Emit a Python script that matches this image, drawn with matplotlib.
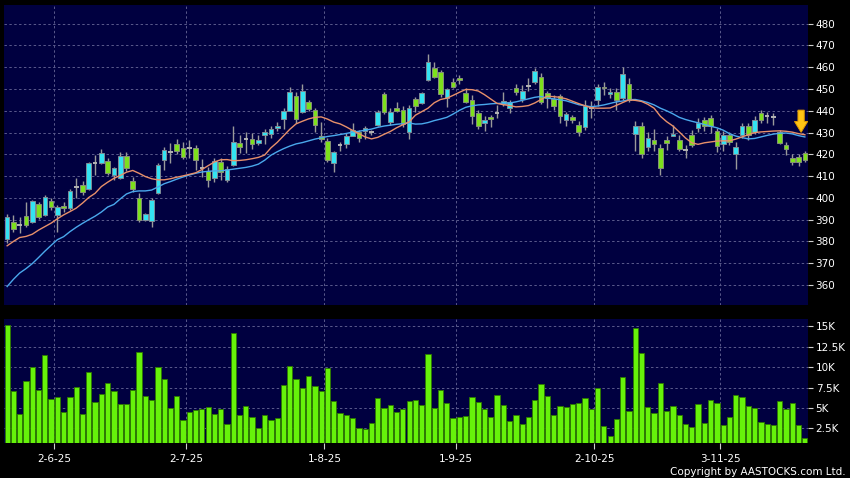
import numpy as np
import matplotlib
matplotlib.use("Agg")
import matplotlib.pyplot as plt
from matplotlib.patches import FancyArrow

# ---------------- data ----------------
opens = [381.0, 388.8, 387.6, 391.9, 388.8, 397.1, 392.2, 398.6, 392.2, 396.2,
         395.3, 405.2, 406.0, 404.1, 415.9, 415.9, 417.1, 410.3, 409.3, 419.4,
         407.8, 399.9, 390.0, 389.4, 402.1, 417.5, 420.9, 424.8, 422.8, 423.1,
         423.1, 413.9, 412.4, 409.0, 416.4, 408.3, 415.2, 425.1, 427.0, 427.2,
         425.4, 429.0, 429.5, 432.2, 436.1, 440.0, 447.0, 439.6, 443.9, 440.4,
         428.5, 426.3, 415.9, 424.3, 424.6, 428.6, 430.2, 430.8, 430.2, 433.5,
         447.8, 435.0, 441.2, 440.4, 430.2, 445.3, 443.5, 454.2, 459.8, 458.0,
         446.1, 453.1, 455.0, 448.1, 445.0, 439.2, 434.3, 437.2, 439.2, 443.0,
         441.5, 450.4, 445.3, 451.6, 453.1, 455.4, 448.1, 445.5, 447.0, 435.7,
         437.0, 433.5, 432.6, 441.2, 445.0, 451.1, 447.6, 448.8, 445.8, 452.2,
         429.2, 432.8, 423.4, 426.8, 422.8, 426.8, 428.3, 426.8, 422.0, 428.9,
         432.0, 435.8, 436.9, 430.8, 424.6, 428.9, 420.1, 428.9, 433.2, 430.2,
         438.9, 437.8, 437.3, 430.2, 424.3, 418.2, 418.7, 420.8]
closes = [391.4, 385.8, 387.6, 387.6, 398.6, 391.0, 400.2, 395.6, 395.6, 395.3,
          403.2, 405.2, 402.6, 415.9, 415.9, 420.5, 411.3, 413.6, 419.4, 413.6,
          404.1, 390.0, 392.4, 399.1, 415.2, 422.0, 420.9, 421.6, 418.7, 423.1,
          417.3, 413.9, 408.3, 417.0, 412.1, 413.3, 425.6, 423.6, 427.0, 424.6,
          426.8, 430.2, 431.7, 433.1, 440.0, 448.5, 436.3, 449.3, 440.9, 433.5,
          427.2, 417.5, 421.0, 424.3, 428.5, 431.2, 427.7, 432.0, 430.2, 439.6,
          439.6, 439.3, 440.1, 433.8, 441.2, 442.4, 448.1, 462.6, 455.4, 447.6,
          449.9, 451.1, 454.0, 444.2, 437.7, 432.8, 435.8, 436.1, 439.2, 444.7,
          443.9, 448.5, 449.3, 451.6, 458.3, 443.9, 446.1, 442.4, 437.5, 438.4,
          435.7, 430.2, 442.4, 441.2, 451.1, 450.4, 448.5, 445.0, 456.8, 445.0,
          432.8, 420.1, 427.7, 424.6, 413.9, 425.0, 429.2, 422.4, 422.0, 424.3,
          434.3, 432.8, 432.8, 424.0, 428.9, 425.9, 423.6, 432.8, 428.9, 435.8,
          435.8, 437.8, 437.3, 425.1, 422.4, 416.7, 416.4, 417.3]
highs = [392.4, 392.2, 391.4, 398.3, 399.0, 398.3, 401.1, 399.9, 396.8, 398.3,
         404.1, 409.3, 407.8, 416.7, 419.7, 422.5, 418.2, 414.4, 421.0, 421.0,
         409.8, 402.1, 393.0, 399.9, 416.0, 423.6, 425.0, 427.0, 425.6, 426.6,
         424.3, 417.9, 414.4, 418.2, 418.2, 414.8, 432.8, 428.9, 430.2, 429.7,
         429.0, 431.7, 432.8, 434.8, 441.2, 451.1, 448.8, 452.2, 444.9, 441.2,
         435.0, 427.4, 421.6, 425.9, 429.7, 434.3, 431.2, 432.8, 431.2, 440.4,
         448.5, 441.2, 443.9, 442.4, 442.7, 446.5, 448.8, 466.0, 462.6, 458.8,
         450.7, 454.9, 456.6, 450.7, 447.3, 440.4, 437.8, 438.1, 442.7, 448.8,
         445.0, 452.2, 451.9, 455.0, 459.6, 457.3, 449.1, 447.3, 447.6, 439.6,
         438.1, 435.4, 445.0, 444.6, 452.2, 453.4, 450.4, 450.4, 460.3, 454.9,
         435.4, 435.0, 430.2, 431.7, 424.6, 428.2, 433.5, 429.0, 424.3, 431.2,
         436.6, 437.3, 438.1, 432.0, 430.5, 430.2, 425.9, 434.3, 434.3, 437.8,
         440.4, 439.6, 438.9, 431.2, 425.9, 420.0, 420.0, 421.6]
lows = [379.4, 384.5, 383.8, 386.4, 388.4, 390.4, 391.9, 394.6, 384.2, 393.7,
        394.6, 399.9, 401.4, 403.4, 410.6, 415.5, 410.6, 408.3, 408.7, 412.4,
        402.9, 389.1, 389.6, 386.4, 401.6, 412.9, 416.0, 420.0, 418.0, 418.2,
        412.9, 409.8, 405.2, 407.5, 408.3, 407.5, 414.8, 420.5, 420.5, 422.5,
        424.3, 424.6, 427.5, 430.8, 431.7, 439.7, 434.3, 438.9, 439.9, 430.2,
        425.9, 416.4, 412.1, 421.6, 422.8, 428.2, 425.9, 427.1, 428.8, 432.8,
        438.4, 433.5, 439.6, 432.6, 427.0, 439.6, 443.0, 453.7, 455.0, 446.5,
        441.9, 450.4, 452.2, 443.5, 433.8, 431.7, 430.8, 432.6, 436.9, 442.4,
        439.2, 447.3, 444.2, 449.1, 452.2, 442.9, 441.2, 440.4, 434.3, 433.2,
        434.3, 428.6, 431.2, 436.7, 442.0, 447.3, 445.8, 440.4, 445.0, 444.2,
        421.6, 418.5, 421.6, 421.6, 410.6, 422.1, 428.2, 421.6, 418.5, 423.6,
        430.2, 430.5, 429.7, 421.0, 421.6, 424.3, 413.3, 427.7, 426.6, 429.2,
        434.3, 434.3, 433.5, 424.6, 419.7, 415.2, 414.8, 416.4]
volumes_k = [15.16, 7.08, 4.2, 8.3, 10.0, 7.24, 11.45, 6.06, 6.4, 4.47,
             6.35, 7.53, 4.3, 9.4, 5.73, 6.76, 8.0, 7.08, 5.45, 5.45,
             7.16, 11.8, 6.47, 5.98, 9.98, 8.6, 4.96, 6.47, 3.49, 4.55,
             4.8, 4.92, 5.12, 4.22, 4.92, 3.08, 14.2, 4.18, 5.24, 3.9,
             2.6, 4.14, 3.49, 3.73, 7.78, 10.2, 8.5, 7.45, 8.96, 7.7,
             7.08, 9.94, 5.8, 4.35, 4.14, 3.82, 2.5, 2.43, 3.12, 6.18,
             5.0, 5.37, 4.51, 4.92, 5.86, 5.98, 5.33, 11.65, 5.04, 7.2,
             5.57, 3.78, 3.9, 4.02, 6.3, 5.73, 4.92, 3.94, 6.55, 5.37,
             3.45, 4.18, 3.08, 3.94, 5.94, 7.94, 6.47, 4.18, 5.2, 5.12,
             5.49, 5.57, 6.22, 4.92, 7.45, 2.76, 1.53, 3.65, 8.8, 4.63,
             14.84, 11.78, 5.12, 4.35, 8.06, 4.67, 5.24, 4.14, 3.04, 2.71,
             5.49, 3.16, 5.98, 5.65, 2.96, 3.94, 6.63, 6.3, 5.29, 5.0,
             3.29, 3.04, 2.92, 5.86, 4.88, 5.57, 2.92, 1.37]
ma_short = [378.0, 380.0, 381.8, 382.3, 383.3, 385.2, 386.8, 388.4, 390.4, 392.2,
            393.7, 395.3, 397.6, 400.2, 402.1, 405.2, 407.2, 409.0, 410.3, 411.8,
            412.6, 411.3, 409.8, 408.8, 408.3, 408.3, 408.8, 409.5, 410.1, 410.8,
            411.5, 413.0, 414.8, 416.5, 417.5, 417.6, 417.1, 417.2, 417.5, 418.0,
            418.6, 419.7, 423.0, 425.5, 428.5, 431.5, 434.0, 435.2, 436.3, 437.0,
            437.2, 436.2, 434.8, 434.0, 432.6, 431.0, 429.5, 428.0, 427.1, 427.8,
            429.2, 430.5, 432.2, 433.6, 434.9, 438.0, 439.6, 441.2, 443.7, 445.2,
            445.8, 447.1, 448.5, 449.8, 449.7, 449.1, 447.4, 445.4, 443.4, 442.8,
            442.4, 441.8, 442.0, 442.4, 443.6, 445.2, 446.7, 446.5, 446.2, 445.5,
            444.4, 443.3, 442.3, 441.4, 441.2, 441.2, 441.3, 442.5, 443.8, 445.0,
            444.8, 444.3, 443.0, 441.2, 437.5, 435.0, 433.0, 430.3, 427.5, 425.3,
            424.6, 425.3, 425.7, 426.1, 426.2, 426.2, 427.0, 428.0, 429.0, 430.0,
            430.3, 430.5, 430.7, 430.8, 430.6, 430.2, 429.5, 429.0]
ma_long = [359.3, 362.6, 365.5, 367.5, 369.8, 372.6, 375.5, 378.2, 380.8, 382.2,
           384.5, 386.5, 388.3, 390.0, 391.6, 393.5, 395.8, 397.0, 399.5, 401.8,
           402.9, 403.2, 403.2, 403.6, 405.0, 406.5, 407.5, 408.6, 409.6, 410.5,
           411.3, 411.9, 412.2, 412.4, 412.4, 412.8, 413.2, 413.6, 414.0, 414.6,
           415.5, 417.3, 419.6, 421.2, 422.6, 423.8, 424.8, 425.4, 426.2, 427.0,
           427.6, 428.2, 428.6, 429.1, 429.6, 430.2, 430.6, 431.1, 431.6, 432.4,
           433.0, 433.4, 433.8, 434.1, 434.4, 433.9, 434.0, 434.6, 435.5, 436.2,
           437.0, 438.5, 440.2, 441.6, 442.3, 442.7, 442.9, 443.2, 443.4, 443.5,
           443.6, 444.1, 444.8, 445.5, 446.2, 446.6, 445.8, 445.5, 445.1, 444.6,
           443.7, 442.8, 442.3, 441.9, 442.2, 442.7, 443.4, 444.1, 444.5, 445.1,
           445.2, 444.6, 443.8, 442.7, 441.2, 440.0, 438.6, 437.0, 436.0, 435.2,
           434.5, 433.7, 432.9, 432.2, 431.1, 429.5, 428.4, 427.7, 427.1, 427.3,
           428.0, 428.7, 429.3, 429.7, 429.8, 429.4, 428.6, 428.0]
date_labels = ["2-6-25", "2-7-25", "1-8-25", "1-9-25", "2-10-25", "3-11-25"]
date_index = [8, 29, 51, 72, 94, 114]
price_ticks = [360, 370, 380, 390, 400, 410, 420, 430, 440, 450, 460, 470, 480]
vol_ticks = [2.5, 5, 7.5, 10, 12.5, 15]
vol_tick_labels = ["2.5K", "5K", "7.5K", "10K", "12.5K", "15K"]

# ---------------- style ----------------
BG = "#000040"
UP = "#33E3F2"
DOWN = "#7DE01C"
DOJI = "#B4B4B4"
WICK = "#9A9A9A"
GRID = "#5A5A8C"
VOL = "#66F20A"
VOL_EDGE = "#2E7A00"

plt.rcParams["font.family"] = ["DejaVu Sans"]
fig = plt.figure(figsize=(8.5, 4.78), dpi=100, facecolor="black")
ax = fig.add_axes([4 / 850, 1 - 305 / 478, 804 / 850, 300 / 478], facecolor=BG)
axv = fig.add_axes([4 / 850, 1 - 443 / 478, 804 / 850, 124 / 478], facecolor=BG, sharex=ax)

n = len(closes)
x = np.arange(n)
o = np.array(opens); c = np.array(closes); h = np.array(highs); l = np.array(lows)

# wicks
ax.vlines(x, l, h, color=WICK, lw=1.0, zorder=2)
bw = 0.74
up = c > o
dn = c < o
eq = c == o
ax.bar(x[up], (c - o)[up], bottom=o[up], width=bw, color=UP, edgecolor="#7E8C96", lw=0.7, zorder=3)
ax.bar(x[dn], (o - c)[dn], bottom=c[dn], width=bw, color=DOWN, edgecolor="#86907A", lw=0.7, zorder=3)
ax.hlines(c[eq], x[eq] - bw / 2, x[eq] + bw / 2, color=DOJI, lw=1.4, zorder=3)

# moving averages
ax.plot(x, ma_long, color="#4AA8EC", lw=1.0, zorder=4)
ax.plot(x, ma_short, color="#E8906A", lw=1.0, zorder=4)

# arrow near the last bar
ax.add_patch(FancyArrow(n - 1.6, ma_short[-1] + 11.3, 0, -10.2, width=1.0,
                        head_width=2.1, head_length=5.0, length_includes_head=True,
                        color="#FFC414", ec="#E09A00", lw=0.7, zorder=6))

ax.set_xlim(-0.5, n - 0.5)
ax.set_ylim(350.8, 488.6)

# volume
axv.bar(x, volumes_k, width=0.84, color=VOL, edgecolor=VOL_EDGE, lw=0.6, zorder=3)
axv.set_ylim(0.7, 15.9)

for a in (ax, axv):
    for s in a.spines.values():
        s.set_visible(False)
    a.yaxis.tick_right()
    a.tick_params(axis="y", colors="#CFCFCF", labelcolor="white", length=3.5, width=0.8,
                  pad=2, labelsize=7.5, direction="out")
    a.set_xticks([d - 0.5 for d in date_index])
    a.grid(True, color=GRID, ls=(0, (2.5, 2.5)), lw=0.7, zorder=0)
    a.set_axisbelow(True)

ax.set_yticks(price_ticks)
ax.set_yticklabels([str(t) for t in price_ticks])
ax.tick_params(axis="x", length=0, labelbottom=False)

axv.set_yticks(vol_ticks)
axv.set_yticklabels(vol_tick_labels)
axv.set_xticklabels(date_labels)
axv.tick_params(axis="x", colors="#CFCFCF", labelcolor="white", length=4, width=0.8,
                pad=4, labelsize=7.5)

fig.text(0.995, 0.0135, "Copyright by AASTOCKS.com Ltd.", ha="right", va="center",
         color="white", fontsize=7.5)

fig.savefig("out.png", dpi=100, facecolor="black")
